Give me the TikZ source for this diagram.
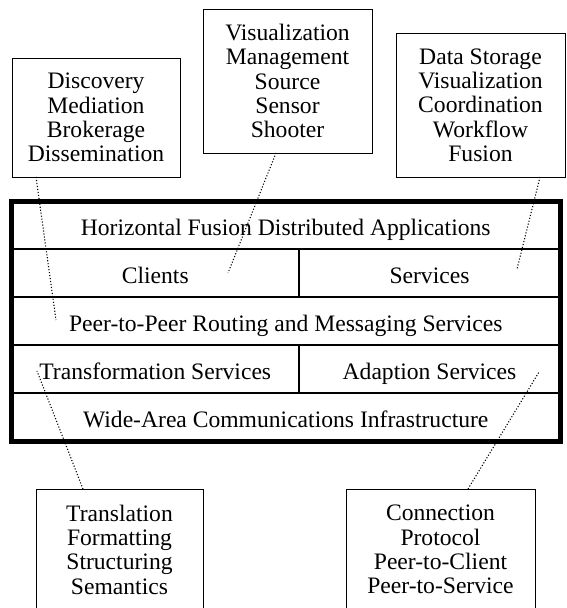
\documentclass[tikz,border=0pt]{standalone}
\usepackage{fontspec}
\setmainfont{Liberation Serif}

\begin{document}
\begin{tikzpicture}[x=1pt,y=-1pt,
	txt/.style={font=\fontsize{23.6}{24.3}\selectfont, align=center, inner sep=0pt, outer sep=0pt},
	topic/.style={txt, draw, line width=1pt, anchor=north west, minimum width=#1},
	cell/.style={txt, draw, line width=1.5pt, anchor=north west, minimum height=48pt, text height=20pt, text depth=0pt, minimum width=#1},
	leader/.style={line width=1.1pt, dash pattern=on 1.1pt off 1.9pt}]
	\useasboundingbox (0,0) rectangle (566,608);

	% the layer stack
	\node[cell=548.5pt] (hfda) at (11.5,201) {Horizontal Fusion Distributed Applications};
	\node[cell=287.5pt] (clients) at (hfda.south west) {Clients};
	\node[cell=261pt] (services) at (clients.north east) {Services};
	\node[cell=548.5pt] (p2p) at (clients.south west) {Peer-to-Peer Routing and Messaging Services};
	\node[cell=287.5pt] (transf) at (p2p.south west) {Transformation Services};
	\node[cell=261pt] (adapt) at (transf.north east) {Adaption Services};
	\node[cell=548.5pt] (wan) at (transf.south west) {Wide-Area Communications Infrastructure};
	\draw[line width=5pt] (hfda.north west) rectangle (wan.south east);

	% boxes listing what each layer holds
	\node[topic=168pt, minimum height=119pt] (disc) at (12,58) {Discovery\\Mediation\\Brokerage\\Dissemination};
	\node[topic=169pt, minimum height=144pt] (vis) at (203,9) {Visualization\\Management\\Source\\Sensor\\Shooter};
	\node[topic=169pt, minimum height=144pt] (store) at (396,33) {Data Storage\\Visualization\\Coordination\\Workflow\\Fusion};
	\node[topic=167pt, minimum height=121pt] (trans) at (36,489) {Translation\\Formatting\\Structuring\\Semantics};
	\node[topic=189pt, minimum height=121pt] (conn) at (346,489) {Connection\\Protocol\\Peer-to-Client\\Peer-to-Service};

	% dotted leaders into the stack
	\coordinate (discend) at (56,320);
	\coordinate (visend) at (228,273);
	\coordinate (storeend) at (517,269);
	\coordinate (transend) at (37,371);
	\coordinate (connend) at (539,372);
	\draw[leader] ([xshift=24pt]disc.south west) -- (discend);
	\draw[leader] ([xshift=73pt]vis.south west) -- (visend);
	\draw[leader] ([xshift=-25pt]store.south east) -- (storeend);
	\draw[leader] ([xshift=47pt]trans.north west) -- (transend);
	\draw[leader] ([xshift=122pt]conn.north west) -- (connend);
\end{tikzpicture}
\end{document}
